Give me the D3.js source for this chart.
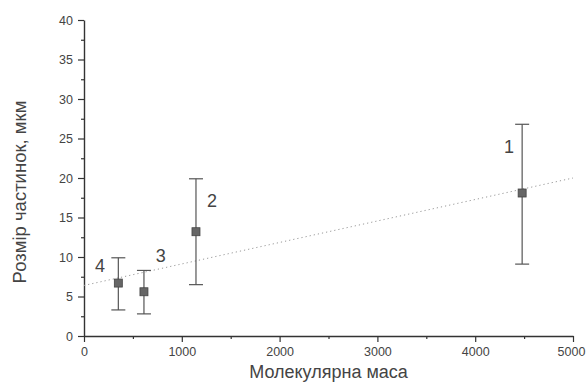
<!DOCTYPE html>
<html>
<head>
<meta charset="utf-8">
<script src="https://cdn.jsdelivr.net/npm/d3@7"></script>
<style>
  body { margin: 0; background: #fff; }
  svg { font-family: "Liberation Sans", Arial, sans-serif; }
</style>
</head>
<body>
<div id="chart"></div>
<script>
// samples: molecular mass vs particle size (mean, min, max of error bar)
const sampleIds = ["1", "2", "3", "4"];
const massValues = [4480, 1145, 613, 351];
const sizeValues = [18.1, 13.2, 5.6, 6.7];
const errLow = [9.1, 6.5, 2.8, 3.3];
const errHigh = [26.8, 19.9, 8.3, 9.9];
// where each sample number sits, in data units
const labelMass = [4346, 1309, 784, 164];
const labelSize = [24.0, 17.1, 10.2, 8.9];
// linear fit drawn as a dotted line
const fitMass = [0, 5000];
const fitSize = [6.4, 20.0];
const xTicks = [0, 1000, 2000, 3000, 4000, 5000];
const yTicks = [0, 5, 10, 15, 20, 25, 30, 35, 40];

const W = 587, H = 385;
const margin = { top: 20, right: 14, bottom: 49, left: 84 };
const width = W - margin.left - margin.right;
const height = H - margin.top - margin.bottom;

const svg = d3.select("#chart").append("svg")
  .attr("width", W)
  .attr("height", H);

const chart = svg.append("g")
  .attr("transform", `translate(${margin.left},${margin.top})`);

const x = d3.scaleLinear().domain([0, 5000]).range([0, width]);
const y = d3.scaleLinear().domain([0, 40]).range([height, 0]);

const axisColor = "#333";
const textColor = "#444";

// minor ticks first
chart.append("g")
  .attr("transform", `translate(0,${height})`)
  .call(d3.axisBottom(x).tickValues(d3.range(500, 5000, 1000)).tickSize(3).tickFormat(""))
  .call(g => g.select(".domain").remove());
chart.append("g")
  .call(d3.axisLeft(y).tickValues(d3.range(2.5, 40, 5)).tickSize(3).tickFormat(""))
  .call(g => g.select(".domain").remove());

const xAxis = chart.append("g")
  .attr("transform", `translate(0,${height})`)
  .call(d3.axisBottom(x).tickValues(xTicks).tickFormat(d3.format("d"))
    .tickSize(6).tickPadding(5).tickSizeOuter(0));
const yAxis = chart.append("g")
  .call(d3.axisLeft(y).tickValues(yTicks).tickSize(6).tickPadding(5).tickSizeOuter(0));

chart.selectAll(".tick line").attr("stroke", axisColor).attr("stroke-width", 1.2);
chart.selectAll(".domain").attr("stroke", axisColor).attr("stroke-width", 1.4);
[xAxis, yAxis].forEach(a => a.selectAll("text")
  .attr("fill", textColor)
  .style("font-size", "12.5px"));
// last x label sits flush with the right edge
xAxis.selectAll(".tick").filter(d => d === 5000).select("text")
  .attr("text-anchor", "end").attr("dx", "0.95em");

// fit line
chart.append("line")
  .attr("x1", x(fitMass[0])).attr("y1", y(fitSize[0]))
  .attr("x2", x(fitMass[1])).attr("y2", y(fitSize[1]))
  .attr("stroke", "#999")
  .attr("stroke-width", 1)
  .attr("stroke-dasharray", "1.2,3");

const pts = sampleIds.map((id, i) => ({
  id, m: massValues[i], s: sizeValues[i], lo: errLow[i], hi: errHigh[i],
  lm: labelMass[i], ls: labelSize[i]
}));

const bars = chart.append("g").attr("stroke", "#555").attr("stroke-width", 1.2);
bars.selectAll(".stem").data(pts).enter().append("line")
  .attr("x1", d => x(d.m)).attr("x2", d => x(d.m))
  .attr("y1", d => y(d.lo)).attr("y2", d => y(d.hi));
bars.selectAll(".capT").data(pts).enter().append("line")
  .attr("x1", d => x(d.m) - 7).attr("x2", d => x(d.m) + 7)
  .attr("y1", d => y(d.hi)).attr("y2", d => y(d.hi));
bars.selectAll(".capB").data(pts).enter().append("line")
  .attr("x1", d => x(d.m) - 7).attr("x2", d => x(d.m) + 7)
  .attr("y1", d => y(d.lo)).attr("y2", d => y(d.lo));

chart.selectAll("rect.pt").data(pts).enter().append("rect")
  .attr("class", "pt")
  .attr("x", d => x(d.m) - 4)
  .attr("y", d => y(d.s) - 4)
  .attr("width", 8)
  .attr("height", 8)
  .attr("fill", "#666")
  .attr("stroke", "#444")
  .attr("stroke-width", 0.8);

chart.selectAll("text.lbl").data(pts).enter().append("text")
  .attr("class", "lbl")
  .attr("x", d => x(d.lm))
  .attr("y", d => y(d.ls))
  .attr("dy", "0.35em")
  .attr("text-anchor", "middle")
  .attr("fill", textColor)
  .style("font-size", "18px")
  .text(d => d.id);

// axis titles
svg.append("text")
  .attr("x", margin.left + width / 2)
  .attr("y", 378)
  .attr("text-anchor", "middle")
  .attr("fill", textColor)
  .style("font-size", "18px")
  .text("Молекулярна маса");

svg.append("text")
  .attr("transform", "translate(20,192) rotate(-90)")
  .attr("dy", "0.35em")
  .attr("text-anchor", "middle")
  .attr("fill", textColor)
  .style("font-size", "18.5px")
  .text("Розмір частинок, мкм");
</script>
</body>
</html>
